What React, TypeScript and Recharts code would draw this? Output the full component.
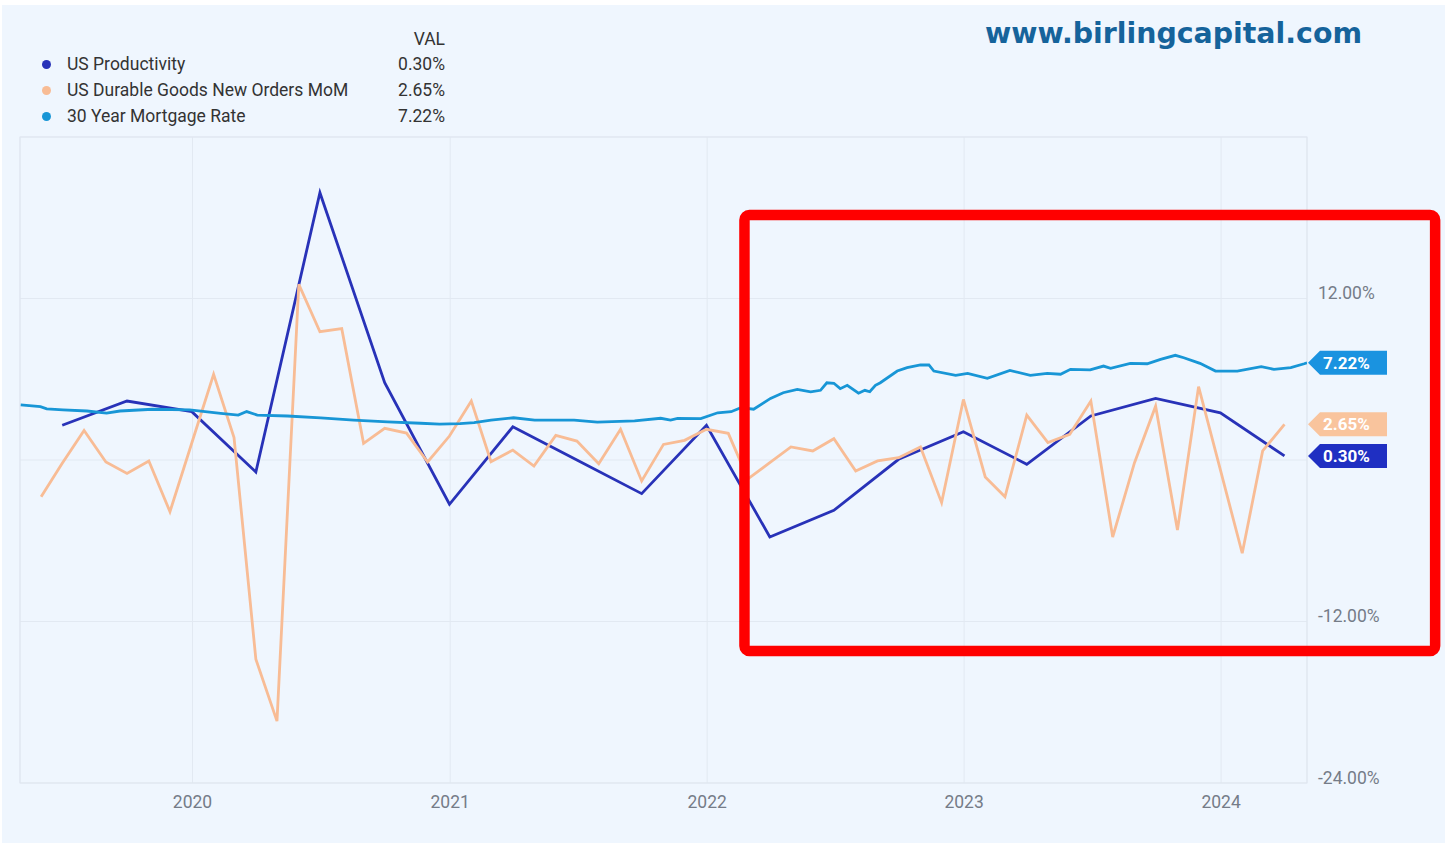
import React from "react";
import {
  LineChart,
  Line,
  XAxis,
  YAxis,
  CartesianGrid,
  ReferenceArea,
  ReferenceDot,
} from "recharts";

// US Productivity, quarterly (quarter-end dates), %
const productivityQuarters = [
  "2019-06-30", "2019-09-30", "2019-12-31", "2020-03-31", "2020-06-30",
  "2020-09-30", "2020-12-31", "2021-03-31", "2021-06-30", "2021-09-30",
  "2021-12-31", "2022-03-31", "2022-06-30", "2022-09-30", "2022-12-31",
  "2023-03-31", "2023-06-30", "2023-09-30", "2023-12-31", "2024-03-31",
];
const productivityValues = [
  2.58, 4.38, 3.59, -0.89, 19.86, 5.74, -3.29, 2.47, 0.0, -2.5,
  2.58, -5.72, -3.74, 0.05, 2.1, -0.32, 3.27, 4.58, 3.51, 0.3,
];

// US Durable Goods New Orders MoM, monthly from May 2019 to Mar 2024, %
const durableStart = { year: 2019, month: 5 };
const durableValues = [
  -2.73, -0.25, 2.2, -0.15, -1.0, -0.07, -3.84, 1.26,
  6.37, 1.66, -14.8, -19.4, 13.05, 9.53, 9.76, 1.24, 2.35, 2.0, -0.15, 1.78,
  4.38, -0.12, 0.74, -0.45, 1.83, 1.41, -0.27, 2.28, -1.56, 1.16, 1.46, 2.28,
  1.98, -1.4, -0.2, 0.97, 0.67, 1.58, -0.82, -0.07, 0.17, 0.97, -3.17, 4.5,
  -1.26, -2.73, 3.34, 1.29, 1.91, 4.38, -5.72, -0.2, 4.0, -5.2, 5.45, -0.74,
  -6.93, 0.67, 2.65,
];

// 30 Year Mortgage Rate, weekly readings, %
const mortgageDates = [
  "2019-05-02", "2019-05-30", "2019-06-08", "2019-07-01", "2019-08-04", "2019-09-01",
  "2019-09-20", "2019-11-05", "2019-12-28", "2020-02-10", "2020-03-06", "2020-03-18",
  "2020-04-02", "2020-05-15", "2020-07-01", "2020-08-17", "2020-10-04", "2020-11-20",
  "2020-12-17", "2021-01-15", "2021-02-04", "2021-02-28", "2021-04-01", "2021-05-01",
  "2021-06-26", "2021-07-29", "2021-09-20", "2021-10-27", "2021-11-10", "2021-11-20",
  "2021-12-23", "2022-01-16", "2022-02-04", "2022-02-18", "2022-03-08", "2022-04-01",
  "2022-04-19", "2022-05-09", "2022-05-28", "2022-06-11", "2022-06-20", "2022-06-30",
  "2022-07-09", "2022-07-19", "2022-08-04", "2022-08-13", "2022-08-20", "2022-08-28",
  "2022-09-04", "2022-09-28", "2022-10-12", "2022-10-31", "2022-11-12", "2022-11-19",
  "2022-12-20", "2023-01-06", "2023-02-03", "2023-03-07", "2023-04-05", "2023-04-29",
  "2023-05-18", "2023-06-01", "2023-06-29", "2023-07-18", "2023-07-28", "2023-08-25",
  "2023-09-18", "2023-10-07", "2023-10-28", "2023-11-09", "2023-12-02", "2023-12-24",
  "2024-01-24", "2024-02-27", "2024-03-16", "2024-04-09", "2024-04-28", "2024-05-02",
];
const mortgageValues = [
  4.1, 3.96, 3.8, 3.72, 3.64, 3.48,
  3.64, 3.77, 3.72, 3.47, 3.34, 3.6,
  3.34, 3.27, 3.13, 2.96, 2.84, 2.73,
  2.67, 2.7, 2.77, 2.97, 3.14, 2.97,
  2.97, 2.82, 2.9, 3.1, 2.97, 3.1,
  3.07, 3.51, 3.59, 3.89, 3.77, 4.58,
  5.0, 5.25, 5.07, 5.18, 5.74, 5.7,
  5.3, 5.55, 4.96, 5.18, 5.07, 5.55,
  5.74, 6.61, 6.86, 7.06, 7.06, 6.61,
  6.29, 6.44, 6.07, 6.66, 6.29, 6.44,
  6.37, 6.74, 6.69, 6.98, 6.81, 7.18,
  7.15, 7.48, 7.78, 7.6, 7.18, 6.61,
  6.61, 6.93, 6.74, 6.86, 7.15, 7.22,
];

const yearTicks = ["2020-01-01", "2021-01-01", "2022-01-01", "2023-01-01", "2024-01-01"];
const yTicks = [-24, -12, 0, 12, 24];
const xDomain = ["2019-05-01", "2024-05-02"];

const COLORS = {
  productivity: "#2832b8",
  durable: "#f8bc95",
  mortgage: "#1896d6",
};

const ts = (d: string) => Date.parse(d);

const productivityData = productivityQuarters.map((d, i) => ({ t: ts(d), v: productivityValues[i] }));
const durableData = durableValues.map((v, i) => {
  const m = durableStart.month + i; // month-end of month m
  return { t: Date.UTC(durableStart.year, m, 0), v };
});
const mortgageData = mortgageDates.map((d, i) => ({ t: ts(d), v: mortgageValues[i] }));

const series = [
  { name: "US Productivity", color: COLORS.productivity, data: productivityData, badge: "#1f2fc2" },
  { name: "US Durable Goods New Orders MoM", color: COLORS.durable, data: durableData, badge: "#f9c49d" },
  { name: "30 Year Mortgage Rate", color: COLORS.mortgage, data: mortgageData, badge: "#1a93e0" },
];

const last = (d: { v: number }[]) => d[d.length - 1].v;
const FONT = "Roboto, 'Noto Sans', sans-serif";

// end-of-series value tag on the right axis
const makeBadge = (bg: string, text: string) => (props: any) => {
  const { cx, cy } = props;
  if (cx == null || cy == null) return <g />;
  return (
    <g>
      <polygon
        points={`${cx + 1},${cy} ${cx + 13},${cy - 12} ${cx + 80},${cy - 12} ${cx + 80},${cy + 12} ${cx + 13},${cy + 12}`}
        fill={bg}
      />
      <text x={cx + 16} y={cy + 6} fill="#ffffff" fontSize={17} fontWeight={700} fontFamily={FONT}>
        {text}
      </text>
    </g>
  );
};

const RedBox = (props: any) => {
  const { x, y, width, height } = props;
  return <rect x={x} y={y} width={width} height={height} rx={5} fill="none" stroke="#ff0000" strokeWidth={10.5} />;
};

const Frame = (props: any) => {
  const { x, y, width, height } = props;
  return <rect x={x} y={y} width={width} height={height} fill="none" stroke="#dfe6ef" strokeWidth={1} />;
};

const YTick = (props: any) => {
  const { x, y, payload } = props;
  if (payload.value === 24 || payload.value === 0) return <g />;
  return (
    <text x={x + 11} y={y + 0.5} fill="#757c88" fontSize={17.5} fontFamily={FONT}>
      {`${payload.value.toFixed(2)}%`}
    </text>
  );
};

const XTick = (props: any) => {
  const { x, y, payload } = props;
  return (
    <text x={x} y={y + 24.5} fill="#757c88" fontSize={17.5} fontFamily={FONT} textAnchor="middle">
      {new Date(payload.value).getUTCFullYear()}
    </text>
  );
};

function LegendBlock() {
  return (
    <div style={{ position: "absolute", left: 0, top: 0, fontFamily: FONT, fontSize: 17.5, color: "#333" }}>
      <div style={{ position: "absolute", left: 345, top: 28, width: 100, textAlign: "right", lineHeight: "22px" }}>VAL</div>
      {series.map((s, i) => (
        <div key={s.name} style={{ position: "absolute", top: 53 + i * 26, left: 0, height: 22, lineHeight: "22px" }}>
          <span
            style={{
              position: "absolute",
              left: 41.5,
              top: 6.5,
              width: 9,
              height: 9,
              borderRadius: "50%",
              background: s.color,
            }}
          />
          <span style={{ position: "absolute", left: 67, whiteSpace: "nowrap" }}>{s.name}</span>
          <span style={{ position: "absolute", left: 345, width: 100, textAlign: "right" }}>
            {last(s.data).toFixed(2)}%
          </span>
        </div>
      ))}
    </div>
  );
}

export default function App() {
  const domain = [ts(xDomain[0]), ts(xDomain[1])];
  return (
    <div style={{ position: "absolute", left: 0, top: 0, width: 1453, height: 846, background: "#ffffff", overflow: "hidden" }}>
      <div style={{ position: "absolute", left: 2, top: 5, width: 1443, height: 838, background: "#eff6fe" }} />
      <LineChart
        width={1453}
        height={846}
        margin={{ top: 137, right: 0, bottom: 0, left: 20 }}
        style={{ position: "absolute", left: 0, top: 0 }}
      >
        <CartesianGrid stroke="#e2e9f2" />
        <XAxis
          dataKey="t"
          type="number"
          domain={domain}
          ticks={yearTicks.map(ts)}
          allowDataOverflow
          axisLine={false}
          tickLine={false}
          tickSize={0}
          tickMargin={0}
          height={63}
          tick={<XTick />}
        />
        <YAxis
          orientation="right"
          type="number"
          domain={[-24, 24]}
          ticks={yTicks}
          allowDataOverflow
          axisLine={false}
          tickLine={false}
          tickSize={0}
          tickMargin={0}
          width={146}
          tick={<YTick />}
        />
        <ReferenceArea x1={domain[0]} x2={domain[1]} y1={-24} y2={24} shape={Frame} ifOverflow="visible" />
        {series.map((s) => (
          <Line
            key={s.name}
            data={s.data}
            dataKey="v"
            name={s.name}
            type="linear"
            stroke={s.color}
            strokeWidth={2.8}
            dot={false}
            activeDot={false}
            isAnimationActive={false}
          />
        ))}
        {series.map((s) => (
          <ReferenceDot
            key={`badge-${s.name}`}
            x={domain[1]}
            y={last(s.data)}
            ifOverflow="visible"
            shape={makeBadge(s.badge, `${last(s.data).toFixed(2)}%`)}
            zIndex={2900}
          />
        ))}
        <ReferenceArea
          x1={ts("2022-02-23")}
          x2={ts("2024-10-31")}
          y1={-14.19}
          y2={18.2}
          ifOverflow="visible"
          shape={RedBox}
          zIndex={3000}
        />
      </LineChart>
      <LegendBlock />
      <svg width={1453} height={80} style={{ position: "absolute", left: 0, top: 0 }}>
        <text
          x={985}
          y={43}
          textLength={377}
          lengthAdjust="spacingAndGlyphs"
          fill="#15639b"
          fontSize={29}
          fontWeight={700}
          fontFamily="'DejaVu Sans', sans-serif"
        >
          www.birlingcapital.com
        </text>
      </svg>
    </div>
  );
}
